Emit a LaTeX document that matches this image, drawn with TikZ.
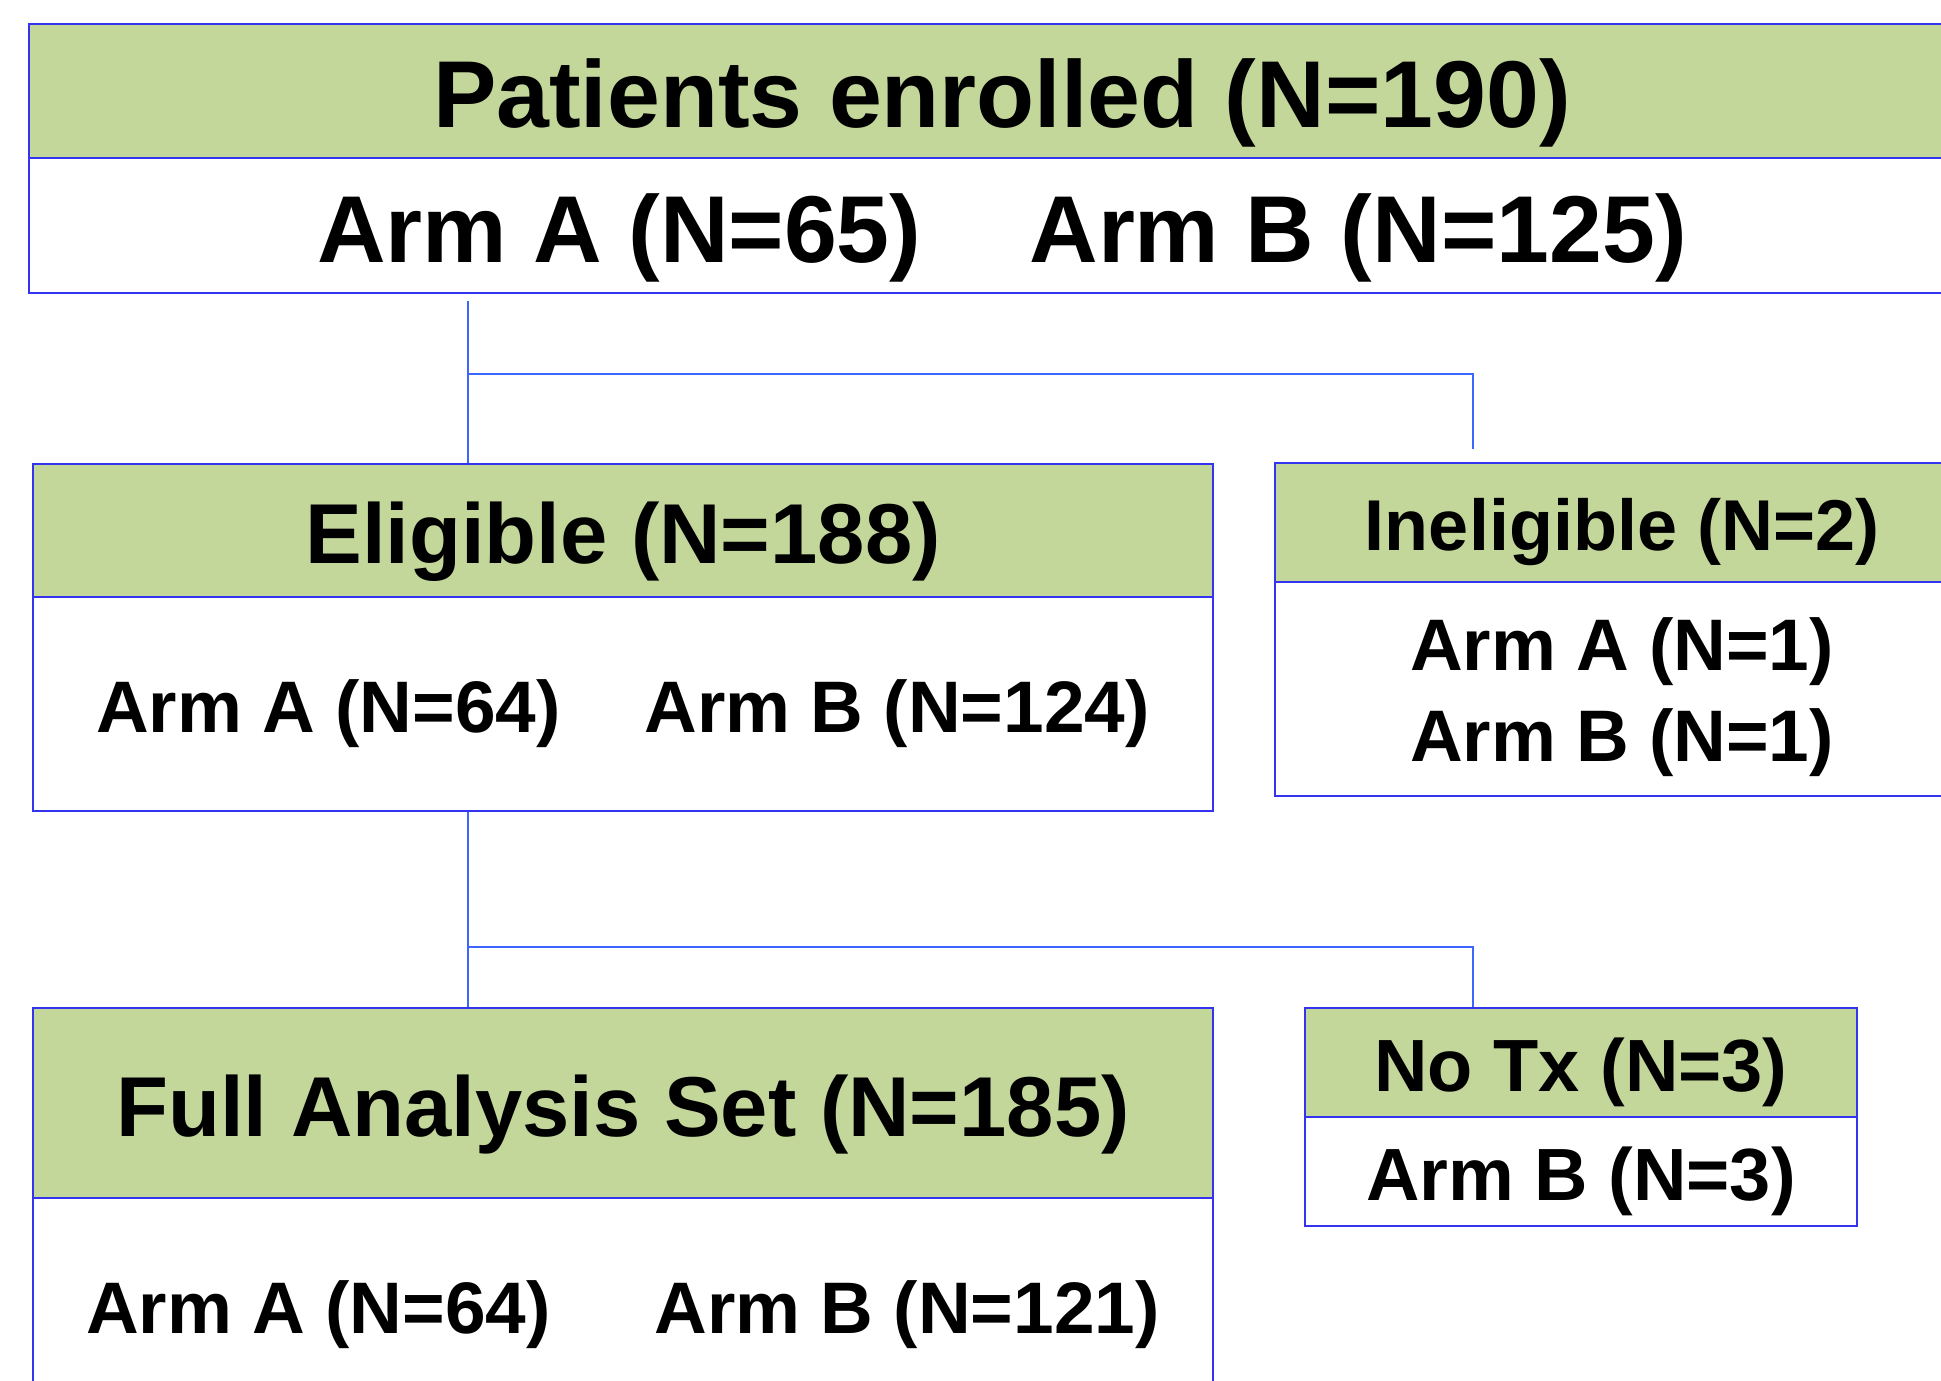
\documentclass[tikz,border=0pt]{standalone}
\usepackage{fontspec}
\setmainfont{Liberation Sans}
\definecolor{hdrgreen}{HTML}{C4D79B}
\definecolor{boxblue}{HTML}{3333F0}
\definecolor{linkblue}{HTML}{3D66FF}
\tikzset{
  hdr/.style={draw=boxblue, fill=hdrgreen, line width=0.7pt, inner sep=0pt, text depth=0pt},
  body/.style={draw=boxblue, fill=white, line width=0.7pt, inner sep=0pt, align=center, text depth=0pt},
  link/.style={draw=linkblue, line width=1pt}
}

\begin{document}
\begin{tikzpicture}[x=0.5pt, y=-0.5pt]
    \useasboundingbox (0, 0) rectangle (1941, 1380);
    % enrolled
    \node[hdr, minimum width=973pt, minimum height=67pt, font=\bfseries\fontsize{47.5}{57}\selectfont, text height=37pt] (enrh) at (1002, 91) {Patients enrolled (N=190)};
    \node[body, minimum width=973pt, minimum height=67.5pt, font=\bfseries\fontsize{47.5}{57}\selectfont, text height=37pt] (enrb) at (1002, 225.5) {Arm A (N=65)\hspace{54pt}Arm B (N=125)};
    % eligible / ineligible
    \node[hdr, minimum width=590pt, minimum height=66.5pt, font=\bfseries\fontsize{42.5}{51}\selectfont, text height=33.2pt] (elgh) at (623, 530.5) {Eligible (N=188)};
    \node[body, minimum width=590pt, minimum height=107pt, font=\bfseries\fontsize{36.5}{44}\selectfont, text height=28.5pt] (elgb) at (623, 704) {Arm A (N=64)\hspace{42pt}Arm B (N=124)};
    \node[hdr, minimum width=347pt, minimum height=59.5pt, font=\bfseries\fontsize{36}{43}\selectfont, text height=28.1pt] (inelh) at (1622, 522.5) {Ineligible (N=2)};
    \node[body, minimum width=347pt, minimum height=107pt, font=\bfseries\fontsize{36.5}{45.5}\selectfont, text height=80pt, text depth=7.7pt] (inelb) at (1622, 689) {Arm A (N=1)\\Arm B (N=1)};
    % analysis set / no treatment
    \node[hdr, minimum width=590pt, minimum height=95pt, font=\bfseries\fontsize{42.5}{51}\selectfont, text height=33.2pt] (fash) at (623, 1103) {Full Analysis Set (N=185)};
    \node[body, minimum width=590pt, minimum height=106.5pt, font=\bfseries\fontsize{36.5}{44}\selectfont, text height=28.5pt] (fasb) at (623, 1304.5) {Arm A (N=64)\hspace{52pt}Arm B (N=121)};
    \node[hdr, minimum width=276pt, minimum height=54.5pt, font=\bfseries\fontsize{37}{44}\selectfont, text height=28.9pt] (notxh) at (1581, 1062.5) {No Tx (N=3)};
    \node[body, minimum width=276pt, minimum height=54.5pt, font=\bfseries\fontsize{37}{44}\selectfont, text height=28.9pt] (notxb) at (1581, 1171.5) {Arm B (N=3)};
    % connectors
    \coordinate (s1) at (468, 301);
    \coordinate (j1) at (468, 374);
    \coordinate (e1) at (1473, 449);
    \coordinate (j2) at (468, 947);
    \coordinate (e2) at (1473, 1008);
    \draw[link] (s1) -- (s1 |- elgh.north);
    \draw[link] (j1) -| (e1);
    \draw[link] (elgb.south -| j2) -- (j2 |- fash.north);
    \draw[link] (j2) -| (e2 |- notxh.north);
  \end{tikzpicture}
\end{document}
